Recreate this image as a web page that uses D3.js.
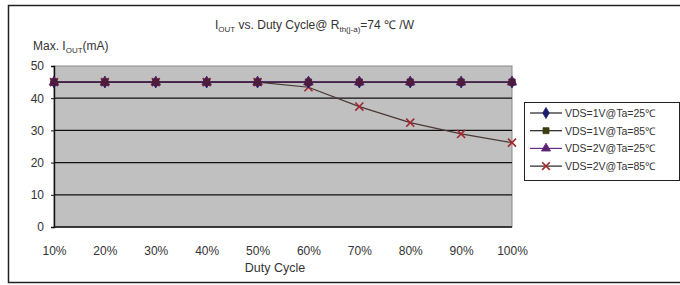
<!DOCTYPE html>
<html>
<head>
<meta charset="utf-8">
<script src="https://cdnjs.cloudflare.com/ajax/libs/d3/7.8.5/d3.min.js"></script>
<style>
  body { margin: 0; background: #fff; }
  text { font-family: "Liberation Sans", Arial, sans-serif; fill: #333; }
</style>
</head>
<body>
<script>
// data
var dutyCycles = ["10%", "20%", "30%", "40%", "50%", "60%", "70%", "80%", "90%", "100%"];
var yTicks = [0, 10, 20, 30, 40, 50];
var vds1v25 = [45, 45, 45, 45, 45, 45, 45, 45, 45, 45];
var vds1v85 = [45, 45, 45, 45, 45, 45, 45, 45, 45, 45];
var vds2v25 = [45, 45, 45, 45, 45, 45, 45, 45, 45, 45];
var vds2v85 = [45, 45, 45, 45, 45, 43.4, 37.4, 32.4, 28.9, 26.2];
var seriesNames = ["VDS=1V@Ta=25\u2103", "VDS=1V@Ta=85\u2103", "VDS=2V@Ta=25\u2103", "VDS=2V@Ta=85\u2103"];

var width = 680, height = 285;
var plot = {left: 54, right: 512, top: 66, bottom: 227};

var svg = d3.select("body").append("svg")
    .attr("width", width)
    .attr("height", height);

// outer frame
svg.append("rect")
    .attr("x", 8.5).attr("y", 5.5)
    .attr("width", 680).attr("height", 277)
    .attr("fill", "#fff")
    .attr("stroke", "#222")
    .attr("stroke-width", 1.5);

var x = d3.scalePoint().domain(dutyCycles).range([plot.left, plot.right]);
var y = d3.scaleLinear().domain([0, 50]).range([plot.bottom, plot.top]);

// plot area
svg.append("rect")
    .attr("x", plot.left).attr("y", plot.top)
    .attr("width", plot.right - plot.left).attr("height", plot.bottom - plot.top)
    .attr("fill", "#c0c0c0")
    .attr("stroke", "#8a8a8a");

// gridlines
svg.append("g").selectAll("line")
    .data(yTicks.filter(function(d) { return d > 0 && d < 50; }))
    .enter().append("line")
      .attr("x1", plot.left).attr("x2", plot.right)
      .attr("y1", function(d) { return y(d); })
      .attr("y2", function(d) { return y(d); })
      .attr("stroke", "#111")
      .attr("stroke-width", 1.2);

// axes
var yAxis = svg.append("g")
    .attr("transform", "translate(" + plot.left + ",0)")
    .call(d3.axisLeft(y).tickValues(yTicks).tickSize(3).tickPadding(7));
var xAxis = svg.append("g")
    .attr("transform", "translate(0," + plot.bottom + ")")
    .call(d3.axisBottom(x).tickSize(0).tickPadding(19));
[yAxis, xAxis].forEach(function(a) {
  a.select(".domain").attr("stroke", "#111").attr("stroke-width", 1.4);
  a.selectAll(".tick line").attr("stroke", "#111");
  a.selectAll("text").attr("font-size", 12).attr("fill", "#333")
    .attr("font-family", "Liberation Sans, Arial, sans-serif");
});
xAxis.select(".domain").attr("d", "M" + plot.left + ",0H" + plot.right);

// series (drawn so the square markers end up on top, as in the picture)
var series = [
  {name: seriesNames[0], values: vds1v25, line: "#1b1b70", marker: "#1b1b70", key: "#1b1b70", shape: d3.symbolDiamond, order: 1},
  {name: seriesNames[1], values: vds1v85, line: "#3a2030", marker: "#4e1c3c", key: "#3d3d12", shape: d3.symbolSquare, order: 3},
  {name: seriesNames[2], values: vds2v25, line: "#6a2c86", marker: "#5a2470", key: "#5a2470", shape: d3.symbolTriangle, order: 2},
  {name: seriesNames[3], values: vds2v85, line: "#4a3838", marker: "#a3282e", key: "#a3282e", shape: d3.symbolX, order: 0}
];

var line = d3.line()
    .x(function(d, i) { return x(dutyCycles[i]); })
    .y(function(d) { return y(d); });

series.slice().sort(function(a, b) { return a.order - b.order; }).forEach(function(s) {
  var g = svg.append("g");
  g.append("path")
    .attr("d", line(s.values))
    .attr("fill", "none")
    .attr("stroke", s.line)
    .attr("stroke-width", 1.2);
  g.selectAll("path.pt")
    .data(s.values)
    .enter().append("path")
      .attr("class", "pt")
      .attr("transform", function(d, i) { return "translate(" + x(dutyCycles[i]) + "," + y(d) + ")"; })
      .attr("d", d3.symbol().type(s.shape).size(s.shape === d3.symbolX ? 44 : 40))
      .attr("fill", s.shape === d3.symbolX ? "none" : s.marker)
      .attr("stroke", s.marker)
      .attr("stroke-width", s.shape === d3.symbolX ? 1.6 : 0.8);
});

// title
var title = svg.append("text")
    .attr("x", 215).attr("y", 29)
    .attr("font-size", 12);
title.append("tspan").text("I");
title.append("tspan").attr("font-size", 8).attr("dy", 3).text("OUT");
title.append("tspan").attr("dy", -3).text(" vs. Duty Cycle@ R");
title.append("tspan").attr("font-size", 8).attr("dy", 3).text("th(j-a)");
title.append("tspan").attr("dy", -3).text("=74 \u2103 /W");

// y label
var ylab = svg.append("text")
    .attr("x", 33).attr("y", 50)
    .attr("font-size", 12);
ylab.append("tspan").text("Max. I");
ylab.append("tspan").attr("font-size", 8).attr("dy", 3).text("OUT");
ylab.append("tspan").attr("dy", -3).text("(mA)");

// x label
svg.append("text")
    .attr("x", 275).attr("y", 272)
    .attr("text-anchor", "middle")
    .attr("font-size", 12.5)
    .text("Duty Cycle");

// legend
var legend = svg.append("g").attr("transform", "translate(524,102)");
legend.append("rect")
    .attr("x", 0.5).attr("y", 0.5)
    .attr("width", 155).attr("height", 78)
    .attr("fill", "#fff")
    .attr("stroke", "#222");
var item = legend.selectAll("g.item")
    .data(series)
    .enter().append("g")
      .attr("class", "item")
      .attr("transform", function(d, i) { return "translate(0," + (11 + i * 17.7) + ")"; });
item.append("line")
    .attr("x1", 6).attr("x2", 38)
    .attr("stroke", function(d) { return d.shape === d3.symbolTriangle ? d.line : "#222"; })
    .attr("stroke-width", 1.2);
item.append("path")
    .attr("transform", "translate(22,0)")
    .attr("d", function(d) { return d3.symbol().type(d.shape).size(d.shape === d3.symbolX ? 40 : 36)(); })
    .attr("fill", function(d) { return d.shape === d3.symbolX ? "none" : d.key; })
    .attr("stroke", function(d) { return d.key; })
    .attr("stroke-width", function(d) { return d.shape === d3.symbolX ? 1.6 : 0.8; });
item.append("text")
    .attr("x", 41).attr("y", 4)
    .attr("font-size", 10.5)
    .attr("fill", "#555")
    .text(function(d) { return d.name; });
</script>
</body>
</html>
